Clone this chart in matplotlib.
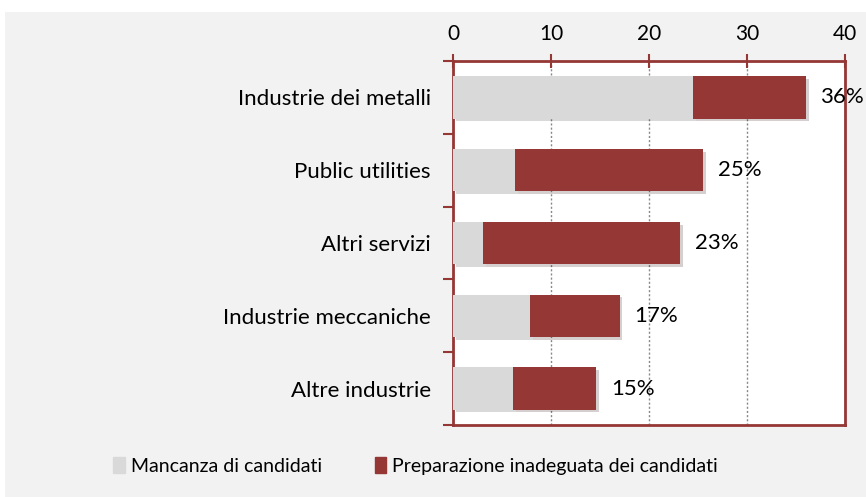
import matplotlib
matplotlib.use("Agg")
import matplotlib.pyplot as plt
import matplotlib.patheffects as pe
from matplotlib.patches import Rectangle
import numpy as np

# data
categories = ["Industrie dei metalli", "Public utilities", "Altri servizi",
              "Industrie meccaniche", "Altre industrie"]
mancanza = [24.5, 6.3, 3.1, 7.9, 6.1]
preparazione = [11.5, 19.2, 20.1, 9.1, 8.5]
totals_label = ["36%", "25%", "23%", "17%", "15%"]
series_names = ["Mancanza di candidati", "Preparazione inadeguata dei candidati"]

red = "#953735"
grey = "#d9d9d9"
plt.rcParams["font.family"] = ["Lato", "DejaVu Sans"]

fig = plt.figure(figsize=(8.66, 4.97), dpi=100, facecolor="white")
# grey panel behind everything
fig.patches.append(Rectangle((5 / 866, 0), 1, 1 - 12 / 497, transform=fig.transFigure,
                             facecolor="#f2f2f2", edgecolor="none", zorder=-10))

ax = fig.add_axes([453 / 866, 1 - 425 / 497, 392 / 866, 364 / 497])
ax.set_facecolor("white")

y = np.arange(len(categories))
shadow = [pe.SimplePatchShadow(offset=(2, -2), alpha=0.2), pe.Normal()]
b1 = ax.barh(y, mancanza, height=0.58, color=grey, zorder=3)
b2 = ax.barh(y, preparazione, left=mancanza, height=0.58, color=red, zorder=3)
for bars in (b1, b2):
    for p in bars:
        p.set_path_effects(shadow)

for i in range(len(categories)):
    tot = mancanza[i] + preparazione[i]
    ax.text(tot + 1.5, y[i], totals_label[i], va="center", ha="left", fontsize=16, zorder=5)

ax.set_xlim(0, 40)
ax.set_ylim(len(categories) - 0.5, -0.5)
ax.set_xticks([0, 10, 20, 30, 40])
ax.xaxis.tick_top()
ax.tick_params(axis="x", direction="inout", length=10, width=1.5, color=red,
               labelsize=15, pad=7)
ax.set_yticks(y)
ax.set_yticklabels(categories, fontsize=16)
ax.tick_params(axis="y", which="major", length=0, pad=16)
ax.set_yticks(np.arange(-0.5, len(categories)), minor=True)
ax.tick_params(axis="y", which="minor", length=7, width=1.5, color=red)
ax.grid(axis="x", linestyle=(0, (1.5, 1.5)), color="#888888", linewidth=1, zorder=1)
for s in ax.spines.values():
    s.set_color(red)
    s.set_linewidth(2)

handles = [Rectangle((0, 0), 1, 1, color=grey), Rectangle((0, 0), 1, 1, color=red)]
fig.legend(handles, series_names, loc="center", bbox_to_anchor=(0.48, 1 - 466 / 497),
           ncol=2, frameon=False, fontsize=14, handlelength=0.6, handleheight=0.9,
           handletextpad=0.3, columnspacing=2.7)

fig.savefig("out.png", dpi=100, facecolor=fig.get_facecolor())
